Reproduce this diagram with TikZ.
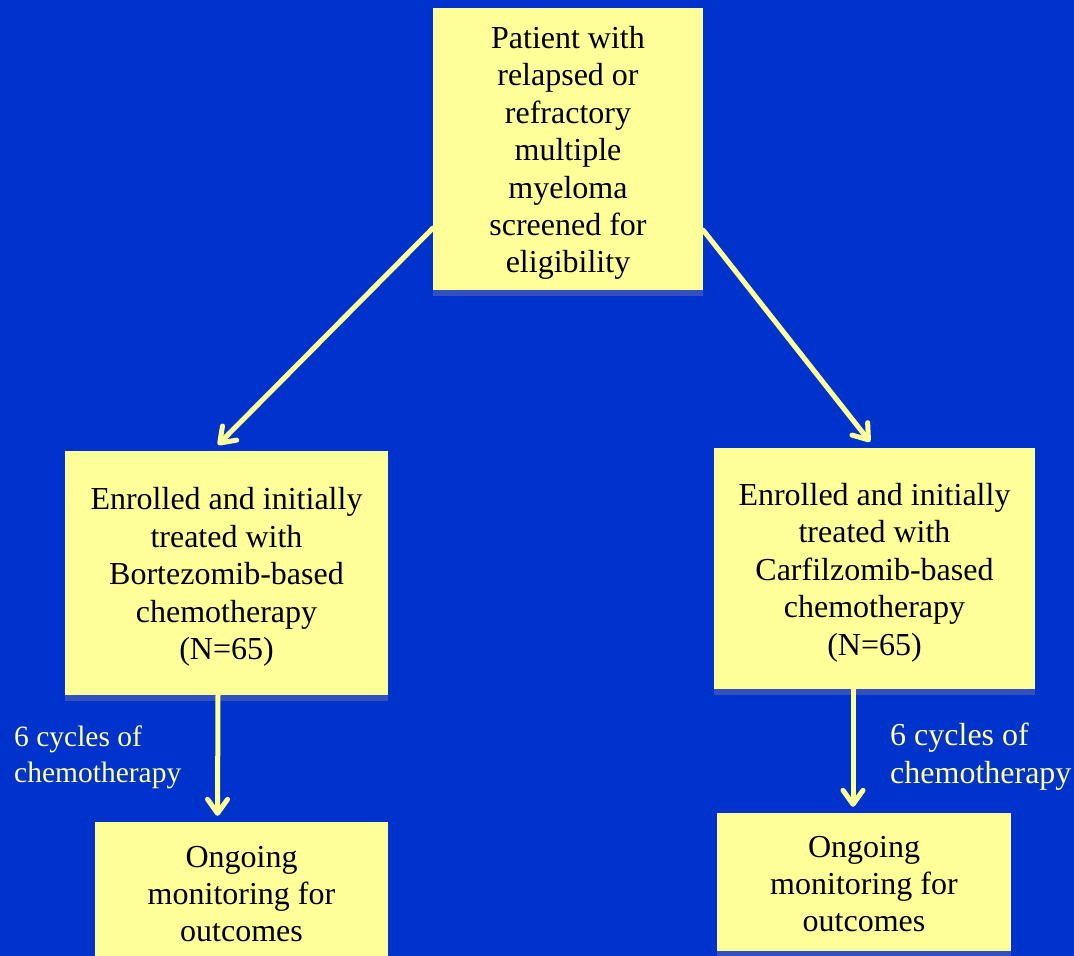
\documentclass[tikz,border=0pt]{standalone}
\usepackage{fontspec}
\setmainfont{Liberation Serif}
\usetikzlibrary{arrows.meta,calc}
\definecolor{bgblue}{RGB}{0,51,204}
\definecolor{boxyellow}{RGB}{255,255,153}
\definecolor{shadowblue}{RGB}{50,80,190}
\begin{document}
\begin{tikzpicture}[x=1pt,y=-1pt,
  box/.style={rectangle, fill=boxyellow, inner sep=0pt},
  txt/.style={inner sep=0pt, align=center, text=black,
    font=\fontsize{32}{37.4}\selectfont},
  arr/.style={draw=boxyellow, line width=5pt, line cap=round,
    -{Straight Barb[length=14pt,width=20pt,line cap=round,line join=round]}},
  lbl/.style={inner sep=0pt, align=left, text=boxyellow, anchor=west}]
\fill[bgblue] (0,0) rectangle (1074,956);
\useasboundingbox (0,0) rectangle (1074,956);
% shadows
\fill[shadowblue] (433,290) rectangle (703,296);
\fill[shadowblue] (65,695) rectangle (388,701);
\fill[shadowblue] (714,689) rectangle (1035,695);
\fill[shadowblue] (717,951) rectangle (1011,957);
% boxes
\node[box, minimum width=270pt, minimum height=282pt] (top) at (568,149) {};
\node[box, minimum width=323pt, minimum height=244pt] (lm) at (226.5,573) {};
\node[box, minimum width=321pt, minimum height=241pt] (rm) at (874.5,568.5) {};
\node[box, minimum width=293pt, minimum height=140pt] (lb) at (241.5,892) {};
\node[box, minimum width=294pt, minimum height=138pt] (rb) at (864,882) {};
% box texts
\node[txt] (topt) at ([yshift=-4pt]top.center)
  {Patient with\\relapsed or\\refractory\\multiple\\myeloma\\screened for\\eligibility};
\node[txt] (lmt) at ([yshift=-4pt]lm.center)
  {Enrolled and initially\\treated with\\Bortezomib-based\\chemotherapy\\(N=65)};
\node[txt] (rmt) at ([yshift=-4pt]rm.center)
  {Enrolled and initially\\treated with\\Carfilzomib-based\\chemotherapy\\(N=65)};
\node[txt] (lbt) at ([yshift=-2pt]lb.center) {Ongoing\\monitoring for\\outcomes};
\node[txt] (rbt) at ([yshift=-2pt]rb.center) {Ongoing\\monitoring for\\outcomes};
% labels
\node[lbl, font=\fontsize{29.5}{36}\selectfont] (ll) at (14,757) {6 cycles of\\chemotherapy};
\node[lbl, font=\fontsize{32}{38}\selectfont] (rl) at (890,757) {6 cycles of\\chemotherapy};
% arrows
\draw[arr] ([yshift=62pt]top.south west) -- ([xshift=-8.5pt,yshift=6pt]lm.north);
\draw[arr] ([yshift=60pt]top.south east) -- ([xshift=-4.5pt,yshift=6pt]rm.north);
\draw[arr] ([xshift=-8.5pt]lm.south) -- ([xshift=-24pt,yshift=6pt]lb.north);
\draw[arr] ([xshift=-21.5pt]rm.south) -- ([xshift=-11pt,yshift=6pt]rb.north);
\end{tikzpicture}
\end{document}
